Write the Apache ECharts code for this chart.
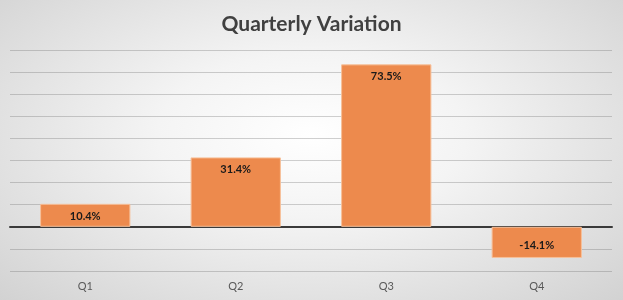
<!DOCTYPE html>
<html><head><meta charset="utf-8">
<script src="https://cdn.jsdelivr.net/npm/echarts@6/dist/echarts.min.js"></script>
<style>
html,body{margin:0;padding:0;}
#c{width:623px;height:300px;background:radial-gradient(ellipse farthest-corner at 50% 45%, #ffffff 0%, #f4f4f4 35%, #d2d2d2 100%);}
</style></head>
<body><div id="c"></div>
<script>
const categories = ['Q1','Q2','Q3','Q4'];
const values = [10.4, 31.4, 73.5, -14.1];
const titleText = 'Quarterly Variation';

const chart = echarts.init(document.getElementById('c'), null, {renderer:'canvas'});
const font = 'Lato, "Open Sans", sans-serif';
chart.setOption({
  backgroundColor: 'transparent',
  animation: false,
  title: {text: titleText, left: 'center', top: 9,
    textStyle: {fontFamily: font, fontSize: 21, fontWeight: 'bold', color: '#404040'}},
  grid: {left: 10, right: 11, top: 50, bottom: 29},
  xAxis: [
    {type: 'category', data: categories, axisLine: {onZero: true, lineStyle: {color: '#3a3a3a', width: 2}},
     axisTick: {show: false}, axisLabel: {show: false}},
    {type: 'category', data: categories, position: 'bottom', axisLine: {show: false, onZero: false},
     axisTick: {show: false}, axisLabel: {fontFamily: font, fontSize: 11, color: '#595959', margin: 10}}
  ],
  yAxis: {type: 'value', min: -20, max: 80, interval: 10, axisLabel: {show: false},
    axisLine: {show: false}, axisTick: {show: false},
    splitLine: {lineStyle: {color: 'rgba(110,110,110,0.32)', width: 1}}},
  series: [{
    type: 'bar', xAxisIndex: 0, barCategoryGap: '40%',
    data: values.map(v => ({value: v, label: {position: v >= 0 ? 'insideTop' : 'insideBottom', distance: 7}})),
    itemStyle: {color: '#ED8A4D', borderColor: '#F7C09A', borderWidth: 1},
    label: {show: true, formatter: p => p.value.toFixed(1) + '%',
      fontFamily: font, fontSize: 11, fontWeight: 'bold', color: '#1a1a1a'}
  }]
});
</script></body></html>
